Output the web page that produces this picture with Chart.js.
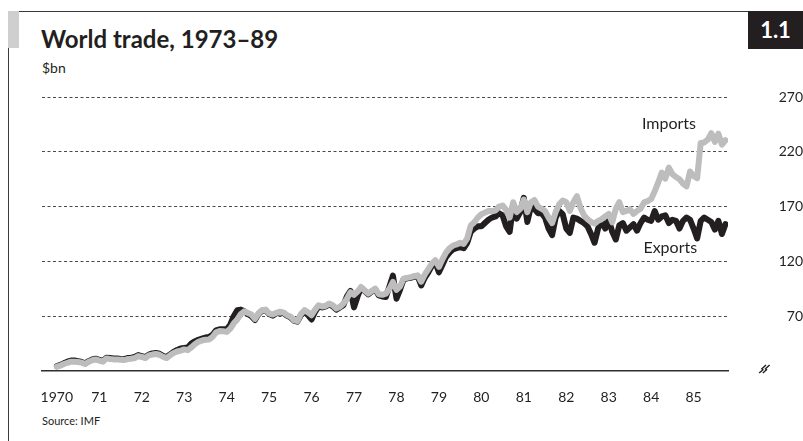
<!DOCTYPE html>
<html>
<head>
<meta charset="utf-8">
<title>World trade, 1973–89</title>
<script src="https://cdn.jsdelivr.net/npm/chart.js@4/dist/chart.umd.min.js"></script>
<style>
  html, body { margin: 0; padding: 0; background: #fff; }
  #page { position: relative; width: 803px; height: 441px; overflow: hidden;
          font-family: Lato, "Open Sans", sans-serif; color: #231f20; }
  #frame { position: absolute; left: 8px; top: 11px; width: 740px; height: 430px;
           border-top: 1px solid #3a3a3a; border-left: 1px solid #3a3a3a; }
  #tab { position: absolute; left: 8px; top: 11px; width: 11px; height: 37px; background: #cfcfcf; }
  #num { position: absolute; left: 748px; top: 11px; width: 55px; height: 38px; background: #231f20;
         color: #fff; font-weight: 700; font-size: 22px; line-height: 38px; text-align: center; }
  #title { position: absolute; left: 41px; top: 27px; font-weight: 700; font-size: 24px;
           line-height: 24px; white-space: nowrap; }
  #unit { position: absolute; left: 42px; top: 61px; font-size: 14px; line-height: 14px; }
  #source { position: absolute; left: 42px; top: 415px; font-size: 11px; line-height: 11px; }
  #wrap { position: absolute; left: 0; top: 0; width: 803px; height: 441px; }
  canvas { display: block; }
</style>
</head>
<body>
<div id="page">
  <div id="frame"></div>
  <div id="tab"></div>
  <div id="num">1.1</div>
  <div id="title">World trade, 1973–89</div>
  <div id="unit">$bn</div>
  <div id="source">Source: IMF</div>
  <div id="wrap"><canvas id="chart" width="803" height="441"></canvas></div>
</div>
<script>
// Monthly series, January 1970 onwards, $bn
const START_YEAR = 1970;
const yearLabels = ['1970', '71', '72', '73', '74', '75', '76', '77', '78', '79', '80', '81', '82', '83', '84', '85'];
const valueTicks = [70, 120, 170, 220, 270];

const imports = [
  24, 25, 26.4, 27.5, 28.5, 28.5, 28.2, 27.6, 26.4, 28.5, 29.8, 30.6,
  29.5, 28.5, 31.5, 31, 30.6, 30.6, 30.2, 30, 30.9, 31.2, 31.8, 33.6,
  32.8, 31.8, 34.2, 35, 35.5, 34.8, 33, 31.8, 34.3, 36.5, 37.8, 38.6,
  39.7, 39, 41.5, 44.5, 46.6, 47.8, 48.5, 48.8, 51, 55.2, 56.4, 56.2,
  55.7, 58.5, 63.5, 67, 72, 74.5, 73, 71.5, 67.5, 72.5, 75.5, 76,
  72.5, 71.5, 73, 74, 73.5, 71.2, 69.8, 66.5, 65.5, 72, 75.5, 73.5,
  70.9, 76, 80, 78.8, 79.5, 81.5, 80, 77, 78.5, 81.5, 86, 92,
  89.5, 92.5, 96.6, 93.5, 90.6, 93, 95.2, 90, 89.5, 90.6, 95, 101.2,
  94, 97, 104.3, 105, 105.7, 106.5, 107.3, 101.5, 108, 113, 118, 121,
  115, 122, 128, 132, 134.5, 135.5, 137, 136, 141, 152.7, 155.7, 160,
  163, 164.5, 166, 166, 166.5, 170, 171, 167, 160, 174, 165, 168,
  176.5, 165, 174, 176, 170, 168, 166, 160, 155, 165, 172, 175.5,
  174, 166, 174, 179.5, 169, 162, 158.5, 156, 154.5, 157, 158.5, 161,
  163.3, 155.7, 168, 174, 165, 166, 167.5, 163.3, 166, 168, 173.9, 175,
  177, 184, 192, 201, 195.5, 205.5, 199.6, 197, 195, 191, 188.5, 202,
  198, 196, 228, 228.5, 231, 237, 229, 236.5, 226.5, 230.5
];

const exports = [
  24.5, 25.5, 27, 28.5, 29.5, 29.5, 29, 28.2, 27, 29, 30.5, 31.2,
  30.2, 29.2, 32, 31.8, 31.4, 31.4, 31, 30.8, 31.8, 32.2, 32.8, 34.5,
  33.6, 32.6, 35, 36, 36.4, 35.7, 33.8, 32.6, 35.2, 37.5, 39.2, 40.5,
  41, 41.5, 45, 47, 48.5, 49.5, 50.5, 51, 53, 57, 58, 58,
  58, 62, 70, 75.5, 76, 74.5, 72, 70, 66.5, 72, 75, 75.5,
  72, 70.5, 72.5, 73.5, 73, 70.5, 69, 66, 65, 71, 74, 71,
  67, 74, 79, 78, 79, 81, 79, 76, 78, 80, 88, 93,
  78, 88, 96, 93, 90, 92.5, 94.5, 89, 88, 87.5, 97, 107,
  86, 94, 103.5, 104.5, 105, 106, 106.5, 98, 105, 110, 116, 119,
  110, 117, 124, 128, 131, 132, 133, 132, 137, 147, 150, 152,
  152, 155, 158, 160, 161, 164, 162, 152, 147, 171, 159, 165,
  178, 156, 170, 168, 164, 164, 160, 150, 144, 160, 166, 163,
  150, 146, 160, 159, 157, 155, 152, 145, 137, 150, 157, 150,
  158, 147, 140, 153, 155, 148, 151, 154, 148, 155, 160, 158,
  157, 166, 158, 161, 162, 155, 158, 157, 150, 157, 160, 158,
  150, 141, 157, 160, 158, 156, 149, 157, 145, 154
];

const FONT = 'Lato, "Open Sans", sans-serif';
const INK = '#231f20';

const monthly = arr => arr.map((v, i) => ({ x: START_YEAR + i / 12, y: v }));

// Series names written beside their lines, placed in data units
const seriesNames = {
  id: 'seriesNames',
  afterDatasetsDraw(chart, args, opts) {
    const { ctx, scales: { x, y } } = chart;
    ctx.save();
    ctx.font = '16px ' + FONT;
    ctx.fillStyle = INK;
    ctx.textAlign = 'center';
    ctx.textBaseline = 'middle';
    opts.items.forEach(it => ctx.fillText(it.text, x.getPixelForValue(it.x), y.getPixelForValue(it.y)));
    ctx.restore();
  }
};

// Scale-break mark next to the baseline on the value axis
const axisBreak = {
  id: 'axisBreak',
  afterDraw(chart) {
    const { ctx, chartArea, scales: { y } } = chart;
    const cx = chartArea.right + 37;
    const cy = y.getPixelForValue(y.min) - 2;
    ctx.save();
    ctx.strokeStyle = INK;
    ctx.lineWidth = 1.4;
    [-1.8, 1.8].forEach(d => {
      ctx.beginPath();
      ctx.moveTo(cx - 4 + d, cy + 4);
      ctx.lineTo(cx - 0.3 + d, cy + 0.8);
      ctx.lineTo(cx - 1.3 + d, cy - 0.2);
      ctx.lineTo(cx + 2.8 + d, cy - 4);
      ctx.stroke();
    });
    ctx.restore();
  }
};

new Chart(document.getElementById('chart'), {
  type: 'line',
  data: {
    datasets: [
      { label: 'Imports', data: monthly(imports), borderColor: '#bdbdbd' },
      { label: 'Exports', data: monthly(exports), borderColor: INK }
    ]
  },
  options: {
    responsive: false,
    animation: false,
    events: [],
    layout: { padding: { left: 42, top: 97, right: 0, bottom: 0 } },
    elements: {
      point: { radius: 0 },
      line: { borderWidth: 6, tension: 0, borderCapStyle: 'round', borderJoinStyle: 'round', fill: false }
    },
    plugins: {
      legend: { display: false },
      tooltip: { enabled: false },
      seriesNames: {
        items: [
          { text: 'Imports', x: 1984.42, y: 245.5 },
          { text: 'Exports', x: 1984.45, y: 132.7 }
        ]
      }
    },
    scales: {
      x: {
        type: 'linear',
        min: 1969.65,
        max: 1985.81,
        afterBuildTicks: s => { s.ticks = yearLabels.map((_, k) => ({ value: START_YEAR + k })); },
        afterFit: s => { s.height = 70; },
        grid: { display: false, drawTicks: false },
        border: { display: true, color: '#2e2e2e', width: 1.6 },
        ticks: {
          padding: 18, maxRotation: 0, autoSkip: false, color: INK,
          font: { family: FONT, size: 14 },
          callback: v => yearLabels[Math.round(v - START_YEAR)]
        }
      },
      y: {
        position: 'right',
        min: 20,
        max: 270,
        afterBuildTicks: s => { s.ticks = [20].concat(valueTicks).map(v => ({ value: v })); },
        afterFit: s => { s.width = 75; },
        grid: {
          drawTicks: false,
          lineWidth: 1,
          color: c => (c.tick && c.tick.value === 20) ? 'rgba(0,0,0,0)' : '#4a4a4a'
        },
        border: { display: false, dash: [3, 2.5] },
        ticks: {
          padding: 22.5, crossAlign: 'far', color: INK,
          font: { family: FONT, size: 14 },
          callback: v => (v === 20 ? '' : String(v))
        }
      }
    }
  },
  plugins: [seriesNames, axisBreak]
});
</script>
</body>
</html>
